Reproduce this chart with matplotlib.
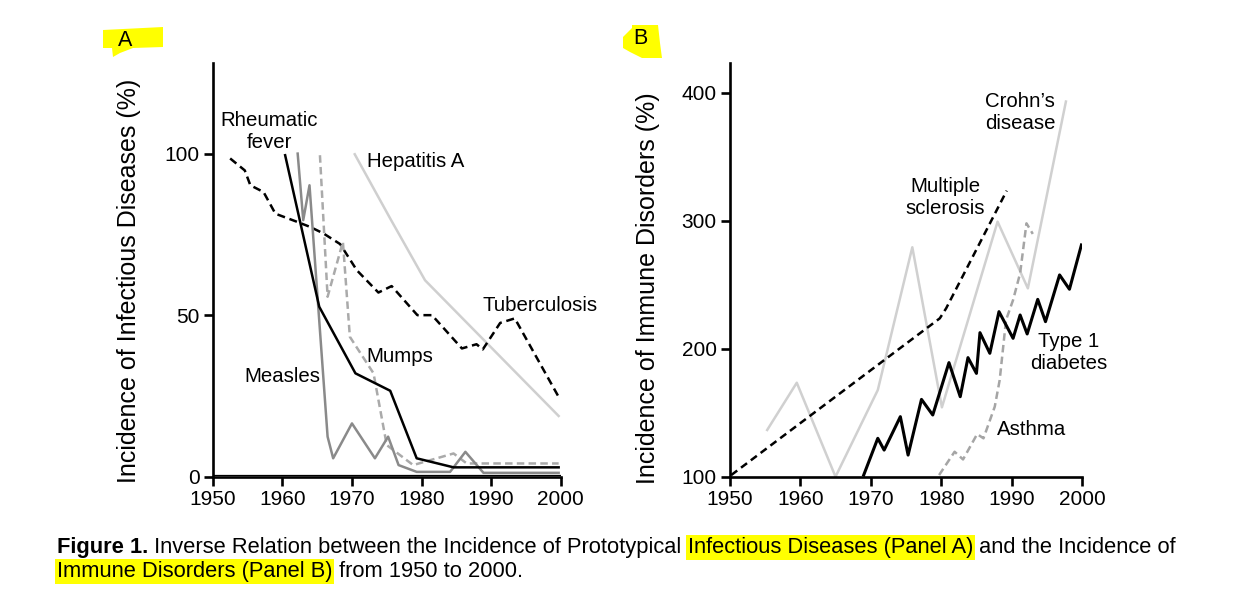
import matplotlib.pyplot as plt
from matplotlib.patches import Polygon
from matplotlib import font_manager

# ---- data ----
# Panel A: infectious diseases (%)
tb_years = [1952.5, 1954.6, 1955.4, 1957.3, 1959.0, 1962.1, 1964.0, 1965.9, 1968.3,
            1970.7, 1973.8, 1975.7, 1979.4, 1981.5, 1985.8, 1987.9, 1988.8, 1991.3,
            1993.4, 1999.7]
tb_vals = [98.5, 94.8, 90.2, 88.1, 81.4, 78.9, 77.3, 75.3, 72.0,
           63.9, 57.0, 59.0, 50.0, 50.0, 39.7, 41.0, 39.4, 47.6, 49.0, 24.7]

rheum_years = [1960.4, 1965.3, 1970.5, 1975.5, 1979.3, 1984.6, 1999.7]
rheum_vals = [99.5, 52.6, 32.0, 26.6, 5.7, 2.9, 2.9]

measles_years = [1962.2, 1963.0, 1963.9, 1966.5, 1967.3, 1970.0, 1973.3, 1975.2,
                 1976.7, 1979.3, 1984.1, 1986.3, 1988.9, 1999.7]
measles_vals = [100.0, 79.4, 90.2, 12.4, 5.7, 16.5, 5.7, 12.4, 3.6, 1.5, 1.5, 7.7, 1.2, 1.2]

mumps_years = [1965.4, 1966.5, 1968.7, 1969.7, 1973.1, 1975.0, 1978.8, 1984.6, 1986.5, 1999.7]
mumps_vals = [99.5, 55.7, 72.7, 43.3, 32.0, 9.8, 3.6, 7.2, 4.1, 4.1]

hepa_years = [1970.4, 1975.5, 1980.5, 1999.7]
hepa_vals = [99.8, 79.9, 60.8, 18.8]

base_years = [1950, 2000]
base_vals = [0.4, 0.4]

# Panel B: immune disorders (%)
ms_years = [1950.2, 1979.8, 1980.7, 1989.3]
ms_vals = [101.3, 223.7, 231.5, 323.4]

crohn_years = [1955.3, 1959.5, 1965.0, 1971.0, 1975.9, 1980.1, 1988.0, 1992.3, 1997.7]
crohn_vals = [136.5, 173.4, 100.0, 167.7, 279.2, 154.2, 299.2, 247.1, 393.0]

t1d_years = [1969.0, 1971.0, 1971.9, 1974.2, 1975.3, 1977.2, 1978.8, 1981.1, 1982.7,
             1983.8, 1985.0, 1985.5, 1986.9, 1988.2, 1990.2, 1991.2, 1992.2, 1993.7,
             1994.8, 1996.8, 1998.2, 1999.9]
t1d_vals = [101.3, 130.0, 120.8, 146.9, 116.9, 160.4, 148.2, 189.1, 162.5,
            193.0, 180.7, 212.5, 196.4, 228.9, 208.1, 226.3, 211.5, 238.5,
            221.1, 257.6, 246.4, 281.0]

asthma_years = [1979.7, 1981.9, 1983.1, 1985.1, 1986.0, 1987.6, 1988.3, 1989.2,
                1990.2, 1991.2, 1992.1, 1993.0]
asthma_vals = [101.3, 119.5, 113.5, 133.3, 130.0, 154.7, 175.5, 222.4,
               238.0, 258.9, 297.9, 289.6]

x_ticks = [1950, 1960, 1970, 1980, 1990, 2000]
a_yticks = [0, 50, 100]
b_yticks = [100, 200, 300, 400]

caption_1 = ["Figure 1.", " Inverse Relation between the Incidence of Prototypical ",
             "Infectious Diseases (Panel A)", " and the Incidence of"]
caption_2 = ["Immune Disorders (Panel B)", " from 1950 to 2000."]

# ---- figure ----
W, H = 1237, 590
plt.rcParams['font.family'] = ['Liberation Sans', 'DejaVu Sans']
fig = plt.figure(figsize=(W / 100, H / 100), dpi=100)

axA = fig.add_axes([0.172, 0.192, 0.2813, 0.701])
axB = fig.add_axes([0.590, 0.192, 0.2848, 0.701])

for ax in (axA, axB):
    for s in ('top', 'right'):
        ax.spines[s].set_visible(False)
    for s in ('left', 'bottom'):
        ax.spines[s].set_linewidth(1.9)
    ax.tick_params(width=1.9, length=6.5, labelsize=15, direction='out')
    ax.tick_params(axis='x', pad=3)
    ax.tick_params(axis='y', pad=3)
    ax.set_xlim(1950, 2000)
    ax.set_xticks(x_ticks)

lw = 1.8
axA.plot(base_years, base_vals, color='black', lw=0.9)
axA.plot(hepa_years, hepa_vals, color='#cfcfcf', lw=lw)
axA.plot(tb_years, tb_vals, color='black', lw=lw, dashes=(3.2, 1.9))
axA.plot(mumps_years, mumps_vals, color='#aaaaaa', lw=lw, dashes=(3.0, 1.7))
axA.plot(measles_years, measles_vals, color='#8a8a8a', lw=lw)
axA.plot(rheum_years, rheum_vals, color='black', lw=lw)
axA.set_ylim(0, 128)
axA.set_yticks(a_yticks)
axA.set_ylabel('Incidence of Infectious Diseases (%)', fontsize=18)
axA.yaxis.set_label_coords(-0.207, 0.473)

tk = dict(fontsize=14.7, color='black')
axA.text(1958.1, 106.9, 'Rheumatic\nfever', ha='center', va='center', **tk)
axA.text(1972.1, 97.6, 'Hepatitis A', ha='left', va='center', **tk)
axA.text(1988.8, 53.0, 'Tuberculosis', ha='left', va='center', **tk)
axA.text(1972.1, 37.3, 'Mumps', ha='left', va='center', **tk)
axA.text(1954.6, 31.0, 'Measles', ha='left', va='center', **tk)

axB.plot(crohn_years, crohn_vals, color='#d0d0d0', lw=lw)
axB.plot(ms_years, ms_vals, color='black', lw=lw, dashes=(3.0, 1.9))
axB.plot(asthma_years, asthma_vals, color='#a5a5a5', lw=lw, dashes=(3.0, 1.7))
axB.plot(t1d_years, t1d_vals, color='black', lw=2.2)
axB.set_ylim(100, 423)
axB.set_yticks(b_yticks)
axB.set_ylabel('Incidence of Immune Disorders (%)', fontsize=18)
axB.yaxis.set_label_coords(-0.197, 0.456)

axB.text(1991.2, 384.5, 'Crohn\u2019s\ndisease', ha='center', va='center', **tk)
axB.text(1980.6, 317.7, 'Multiple\nsclerosis', ha='center', va='center', **tk)
axB.text(1998.1, 197.4, 'Type 1\ndiabetes', ha='center', va='center', **tk)
axB.text(1987.9, 136.5, 'Asthma', ha='left', va='center', **tk)

# ---- highlighter marks behind the panel letters ----
def px(pts):
    return [(x / W, 1 - y / H) for x, y in pts]

hl = '#ffff00'
fig.patches.append(Polygon(px([(103, 30), (163, 27), (163, 47), (133, 48), (120, 53),
                               (113, 57), (112, 48), (103, 48)]),
                           closed=True, fc=hl, ec='none', transform=fig.transFigure))
fig.patches.append(Polygon(px([(623, 37), (632, 28), (632, 25), (658, 25), (660, 43),
                               (662, 58), (642, 58), (630, 52), (623, 48)]),
                           closed=True, fc=hl, ec='none', transform=fig.transFigure))
fig.text(125 / W, 1 - 40 / H, 'A', fontsize=15.5, ha='center', va='center')
fig.text(640 / W, 1 - 39 / H, 'B', fontsize=15.5, ha='center', va='center')

# ---- caption, drawn piece by piece so the highlights sit on the right words ----
try:
    font_manager.findfont(font_manager.FontProperties(family='Liberation Sans Narrow'),
                          fallback_to_default=False)
    cap_font = ['Liberation Sans Narrow', 'DejaVu Sans']
except ValueError:
    cap_font = ['Liberation Sans', 'DejaVu Sans']
renderer = fig.canvas.get_renderer()


def width_px(s, **kw):
    t1 = fig.text(0, 0, s + '|', **kw)
    t2 = fig.text(0, 0, '|', **kw)
    w = t1.get_window_extent(renderer).width - t2.get_window_extent(renderer).width
    t1.remove()
    t2.remove()
    return w


def piece_kw(i, bold_first, fs):
    return dict(fontsize=fs, family=cap_font,
                fontweight='bold' if (bold_first and i == 0) else 'normal')


# scale the caption so its first line spans the same width as in the original
w10 = sum(width_px(s, **piece_kw(i, True, 10)) for i, s in enumerate(caption_1))
cap_fs = 10 * 1126 / w10


def caption_line(pieces, y_base, bold_first, highlight):
    x = 57
    for i, s in enumerate(pieces):
        kw = piece_kw(i, bold_first, cap_fs)
        t = fig.text(x / W, 1 - y_base / H, s, va='baseline', ha='left', **kw)
        if i in highlight:
            t.set_bbox(dict(boxstyle='square,pad=0.08', fc=hl, ec='none'))
        x += width_px(s, **kw)


caption_line(caption_1, 553, True, [2])
caption_line(caption_2, 577, False, [0])

fig.savefig('out.png', dpi=100)
